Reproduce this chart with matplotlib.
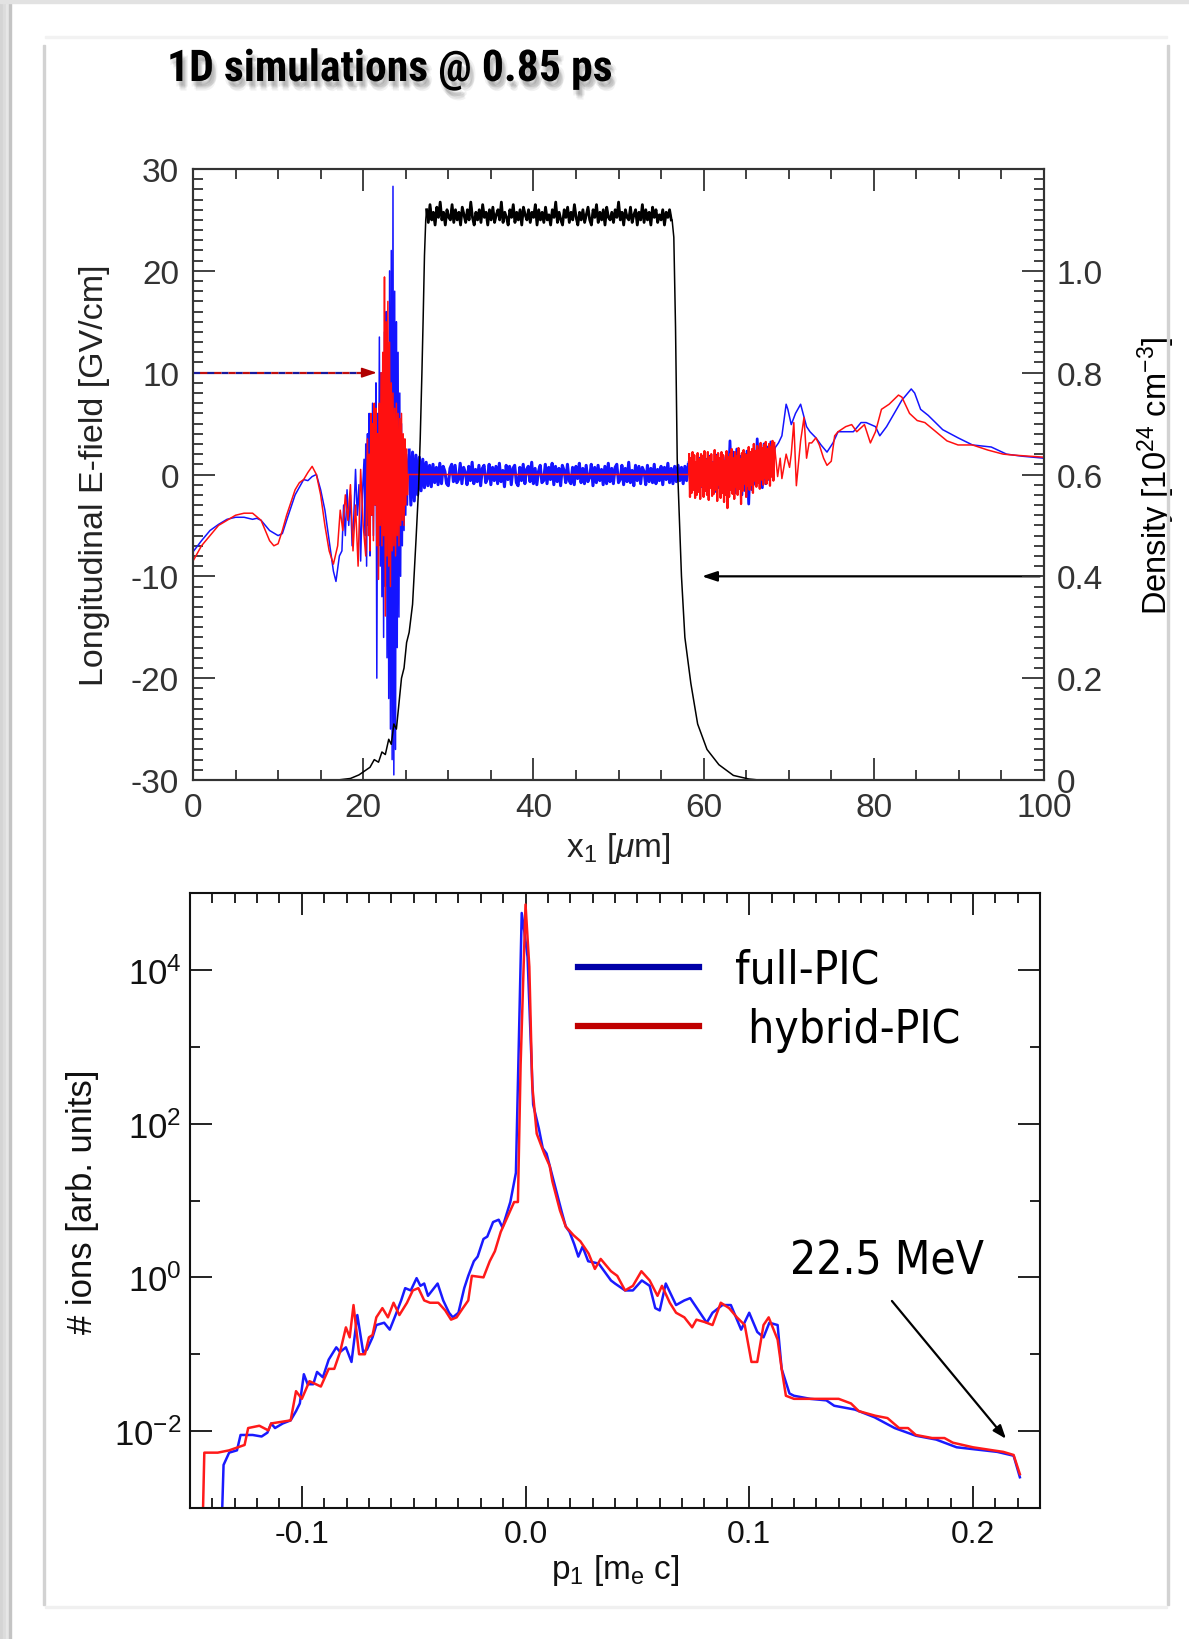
import numpy as np
import matplotlib
matplotlib.use("Agg")
import matplotlib.pyplot as plt
import matplotlib.patheffects as pe
from matplotlib import font_manager
from matplotlib.lines import Line2D
from matplotlib.patches import Rectangle
from matplotlib.ticker import MultipleLocator, FixedLocator, FuncFormatter, NullFormatter

plt.rcParams['font.family'] = ['Liberation Sans', 'DejaVu Sans']
plt.rcParams['mathtext.fontset'] = 'custom'
plt.rcParams['mathtext.rm'] = 'Liberation Sans'
plt.rcParams['mathtext.it'] = 'Liberation Sans:italic'
plt.rcParams['mathtext.default'] = 'regular'
plt.rcParams['axes.unicode_minus'] = False

W, H = 1189, 1640
TICK = '#333333'

# pick a condensed face for the title if one is installed
_faces = {(f.name, f.stretch) for f in font_manager.fontManager.ttflist}
_names = {n for n, s in _faces}
if 'Roboto Condensed' in _names:
    TITLE_FAM, TITLE_SIZE = ['Roboto Condensed', 'DejaVu Sans'], 31.5
elif 'Liberation Sans Narrow' in _names:
    TITLE_FAM, TITLE_SIZE = ['Liberation Sans Narrow', 'DejaVu Sans'], 31
else:
    TITLE_FAM, TITLE_SIZE = ['DejaVu Sans'], 26
COND = ['DejaVu Sans']

# ---------------- top panel: E-field (GV/cm) vs x1 (um) ----------------
# full-PIC (blue)
blue_left_x = [0, 1, 2, 3, 4, 5, 6, 7, 7.5, 8, 9, 10, 10.5, 11, 12, 13, 13.5, 14, 14.5, 15, 15.5, 16, 16.5, 16.8, 17.2]
blue_left_e = [-7.6, -6.5, -5.5, -4.9, -4.4, -4.2, -4.2, -4.4, -4.3, -4.5, -5.5, -6.0, -5.8, -4.5, -2.0, -0.5,
               -0.6, -0.2, 0.0, -1.5, -3.5, -6.5, -9.5, -10.5, -8.0]
blue_osc = [-7.5, -3, -6, -1.5, -5, -2, -7, -4, 0.5, -4, -1, -8.5, -2, 1.5]            # 17.5 .. 20.1
blue_spike = [-6, 3, -9, 4, -5, 6, -8, 2, -4, 7, -6, 5, -3, 9, -20, 6, -7, 13.5, -9, 10,
              -12, 8, -16, 14, -11, 16, -18, 12, -22, 20, -25, 22, -28, 28.3, -29.5, 18, -27, 15, -17, 12,
              -14, 8, -10, 5, -7, 3, -5.5, 2.5, -4, 2, -3, 1.5]                          # 20.2 .. 25.3
blue_band = [2.4, -3.0, 2.2, -2.6, 1.9, -2.0, 1.7, -1.6, 1.5, -1.3,
             1.2, -1.1, 0.9, -1.2, 1.0, -0.8, 0.7, -1.0, 1.1, -0.9,
             0.8, 0.3, -0.9, -1.1, 0.6, 1.0, -0.7, 0.9, -0.8, -0.5,
             1.1, -0.9, 0.7, 0.2, -1.0, 0.8, -0.6, 1.2, -0.9, 0.5,
             -0.7, 0.9, -1.1, 0.6, 0.9, -0.8, -0.4, 1.0, -1.0, 0.7,
             -0.6, 0.8, -0.9, 1.1, -0.7, 0.4, -1.2, 0.9, -0.5, 0.8,
             -1.0, 0.6, 0.9, -0.8, -1.1, 0.7, -0.6, 1.0, -0.9, 0.5,
             0.8, -0.7, 1.2, -0.9, 0.6, -1.0, 0.3, 0.9, -0.8, -0.6,
             1.0, -0.9, 0.7, -0.5, 1.1, -1.0, 0.8, -0.7, 0.6, -1.1,
             0.9, 0.4, -0.8, 1.0, -0.6, -0.9, 0.7, -1.0, 0.8, -0.4,
             1.1, -0.8, 0.6, -0.9, 0.9, -0.7, -0.3, 1.0, -1.1, 0.7,
             -0.8, 0.9, -0.6, 0.5, -1.0, 0.8, -0.9, 1.1, -0.7, 0.6,
             -0.9, 0.7, 1.0, -0.8, -0.5, 0.9, -1.0, 0.6, -0.7, 1.2,
             -0.8, 0.4, -1.1, 0.9, -0.6, 0.8, -0.9, 0.7, 0.3, -1.0,
             0.9, -0.7, 0.6, -0.8, 1.0, -0.9, 0.5, -0.6, 0.8, -1.0,
             0.7, -0.5, 1.1, -0.8, 0.6, -0.9, 0.8, -0.7, 0.9, -0.6,
             0.7, -0.9, 0.8, -0.6, 1.0]                                                   # 25.4 .. 58.2
blue_band2 = [1.2, -1.0, 1.4, -1.3, 1.1, -1.5, 1.6, -1.2, 1.3, -1.6,
              1.5, -1.4, 1.8, -1.1, 1.2, -1.7, 1.9, -1.3, 1.4, -1.5,
              1.7, -1.2, 2.0, -1.6, 3.3, -1.4, 2.2, -1.8, 2.5, -1.3,
              1.8, -2.0, 2.1, -1.6, 2.3, -2.9, 1.9, -1.5, 2.4, -1.0,
              3.5, -0.8, 2.6, -1.3, 3.0, -0.9, 2.7, -0.5, 3.2, 0.2, 2.5]               # 58.3 .. 68.3
blue_right_x = [68.8, 69.2, 69.7, 69.9, 70.3, 70.8, 71.4, 72.1, 72.5, 73.2, 73.8, 74.5, 75.2, 75.8, 76.7,
                77.6, 78.5, 79.1, 80.2, 80.7, 81.5, 82.4, 83.3, 84.4, 84.8, 85.5, 86.4, 88.1, 89.9,
                91.6, 93.8, 95.6, 97.4, 100]
blue_right_e = [3.1, 3.8, 6.9, 6.4, 4.9, 6.0, 6.9, 4.7, 4.2, 3.6, 2.9, 2.2, 3.1, 4.2, 4.2,
                4.2, 5.1, 5.1, 4.7, 3.8, 4.7, 6.0, 7.3, 8.4, 8.0, 6.4, 5.8, 4.4, 3.6,
                2.9, 2.7, 2.0, 1.8, 1.6]

# hybrid-PIC (red)
red_left_x = [0, 1, 2, 3, 4, 5, 6, 7, 8, 8.5, 9, 9.5, 10, 10.5, 11, 12, 12.5, 13, 13.5, 14, 14.5, 15, 15.5,
              16, 16.5, 17]
red_left_e = [-8.5, -7.0, -6.0, -5.0, -4.5, -4.0, -3.8, -3.8, -4.5, -5.5, -6.5, -7.0, -6.8, -5.5, -4.0, -1.5,
              -0.8, -0.5, 0.2, 0.8, 0.0, -2.0, -5.0, -7.5, -8.8, -7.0]
red_osc = [-3.5, -5.5, -2, -4.5, -1, -7.5, -3, -9, 0.5, -5, -8]                       # 17.3 .. 20.3
red_spike = [-2, 3.5, -6, 2, -7.5, 6, -4, 5, -6.5, 7,
             -3, 6.5, -7, 4, -10.3, 7, -5, 10, -7, 12,
             -6, 19.4, -13.9, 15, -8, 17, -9, 13, -11, 9,
             -7.5, 8, -7, 6.5, -8, 7, -6, 6, -7, 5.5,
             -5, 6, -4.5, 4, -5, 3.5, -3, 2.5, -2, 0]                                    # 20.4 .. 25.3
red_band2 = [2.0, -2.2, 1.6, -1.8, 2.2, -1.5, 1.9, -2.3, 1.2, -2.0,
             2.1, -1.7, 1.5, -2.4, 2.0, -1.1, 1.8, -2.2, 2.3, -1.6,
             1.4, -2.0, 2.2, -2.5, 1.7, -1.3, 2.0, -2.1, 1.1, -1.9,
             2.4, -1.5, 1.8, -2.6, 2.1, -1.0, 1.6, -2.3, 2.2, -1.8,
             1.9, -2.7, 1.3, -2.0, 2.3, -3.3, 1.7, -2.2, 2.0, -1.5,
             2.5, -1.9, 1.6, -2.4, 2.2, -1.2, 1.8, -2.0, 2.6, -1.4,
             1.5, -2.9, 2.1, -1.6, 2.4, -0.9, 2.0, -2.2, 1.9, -1.1,
             2.7, -1.5, 2.2, -1.0, 2.5, -1.8, 3.0, -0.6, 2.3, -1.2,
             2.8, -0.8, 2.4, -1.4, 3.1, -0.5, 2.6, -1.0, 2.9, -0.3,
             3.2, -0.9, 2.5, -0.4, 3.0, -1.1, 2.7, -0.2, 3.3, -0.6,
             3.1]                                                                          # 58.3 .. 68.3
red_right_x = [68.7, 69.0, 69.2, 69.7, 70.1, 70.3, 70.6, 70.9, 71.4, 71.8, 72.1, 72.4, 72.7, 73.2, 73.6,
               74.1, 74.5, 75.0, 75.4, 75.8, 76.7, 77.4, 78.0, 78.9, 79.6, 80.2, 80.9, 81.8, 82.9,
               83.3, 84.2, 85.1, 86.0, 87.3, 88.6, 89.9, 91.6, 93.4, 95.2, 96.5, 100]
red_right_e = [-0.2, 1.6, -0.4, 2.0, 0.7, 2.0, 5.1, -1.1, 3.3, 5.6, 1.6, 3.1, 3.1, 3.6, 2.9,
               1.6, 0.9, 1.3, 3.8, 4.2, 4.7, 4.9, 4.2, 4.9, 3.1, 4.2, 6.4, 6.9, 7.8,
               7.6, 6.0, 5.3, 5.1, 4.2, 3.3, 2.9, 2.9, 2.4, 2.0, 1.9, 1.7]

# density (10^24 cm^-3)
dens_rise_x = [0, 17, 18.5, 19.5, 20.2, 20.8, 21.3, 21.8, 22.2, 22.6, 23.0, 23.3, 23.6, 23.9, 24.2, 24.5,
               24.8, 25.1, 25.4, 25.8, 26.2, 26.5, 26.7, 26.9, 27.05, 27.2, 27.35]
dens_rise = [0, 0, 0.003, 0.01, 0.018, 0.025, 0.04, 0.035, 0.055, 0.05, 0.08, 0.07, 0.11, 0.10, 0.15, 0.20,
             0.22, 0.27, 0.29, 0.345, 0.47, 0.57, 0.67, 0.80, 0.91, 1.03, 1.10]
dens_plateau = [1.12, 1.095, 1.13, 1.10, 1.115, 1.09, 1.125, 1.105, 1.135, 1.10,
                1.115, 1.09, 1.12, 1.105, 1.10, 1.13, 1.095, 1.12, 1.10, 1.115,
                1.09, 1.125, 1.11, 1.095, 1.12, 1.10, 1.135, 1.105, 1.09, 1.115,
                1.10, 1.12, 1.095, 1.13, 1.105, 1.115, 1.09, 1.12, 1.10, 1.125,
                1.095, 1.11, 1.12, 1.10, 1.135, 1.095, 1.115, 1.105, 1.09, 1.12,
                1.105, 1.13, 1.095, 1.115, 1.10, 1.12, 1.09, 1.125, 1.11, 1.10,
                1.12, 1.095, 1.115, 1.105, 1.13, 1.09, 1.12, 1.10, 1.115, 1.095,
                1.125, 1.10, 1.11, 1.09, 1.12, 1.105, 1.135, 1.095, 1.115, 1.10,
                1.09, 1.12, 1.105, 1.125, 1.095, 1.115, 1.10, 1.13, 1.105, 1.09,
                1.115, 1.10, 1.12, 1.095, 1.11, 1.125, 1.10, 1.09, 1.12, 1.105,
                1.13, 1.095, 1.115, 1.10, 1.12, 1.09, 1.125, 1.105, 1.10, 1.115,
                1.095, 1.12, 1.105, 1.135, 1.10, 1.115, 1.09, 1.12, 1.105, 1.10,
                1.125, 1.095, 1.11, 1.12, 1.09, 1.115, 1.10, 1.13, 1.095, 1.12,
                1.10, 1.115, 1.09, 1.125, 1.105, 1.12, 1.095, 1.11, 1.10, 1.12,
                1.09, 1.115, 1.105, 1.12, 1.10]                                           # 27.45 .. 56.2
dens_fall_x = [56.3, 56.5, 56.7, 56.9, 57.4, 57.8, 58.5, 59.3, 60.4, 61.8, 63.5, 65.3, 66.5, 100]
dens_fall = [1.10, 1.066, 0.89, 0.63, 0.40, 0.28, 0.19, 0.11, 0.06, 0.03, 0.009, 0.002, 0, 0]

# ---------------- bottom panel: ion spectrum, log10(# ions) vs p1 ----------------
red_p = [-0.1444, -0.1436, -0.1376, -0.1325, -0.1256, -0.124, -0.119, -0.115, -0.1137, -0.105, -0.1026,
         -0.100, -0.0966, -0.0915, -0.088, -0.0855, -0.0829, -0.0803, -0.0786, -0.0769, -0.0744, -0.0718,
         -0.070, -0.0684, -0.0667, -0.064, -0.0615, -0.059, -0.0564, -0.053, -0.0504, -0.0479, -0.0453,
         -0.0427, -0.039, -0.0359, -0.0333, -0.0308, -0.028, -0.0256, -0.024, -0.0188, -0.016, -0.0137,
         -0.0111, -0.0051, -0.0034, -0.0022, 0.0, 0.0017, 0.003, 0.005, 0.0085, 0.0108, 0.012, 0.0154,
         0.018, 0.0214, 0.0245, 0.0282, 0.031, 0.0336, 0.0382, 0.041, 0.0445, 0.048, 0.0518, 0.0555,
         0.059, 0.061, 0.0645, 0.0673, 0.071, 0.0745, 0.0764, 0.080, 0.0836, 0.0873, 0.091, 0.0945,
         0.098, 0.101, 0.1036, 0.1064, 0.1087, 0.1127, 0.1145, 0.1164, 0.120, 0.1273, 0.1345, 0.140,
         0.1455, 0.149, 0.1564, 0.1618, 0.167, 0.171, 0.1745, 0.1818, 0.1873, 0.191, 0.200, 0.209,
         0.2136, 0.2182, 0.221]
red_logn = [-3.3, -2.28, -2.28, -2.25, -2.18, -1.96, -1.93, -1.99, -1.90, -1.86, -1.48,
            -1.58, -1.35, -1.42, -1.19, -1.19, -0.97, -0.65, -0.78, -0.36, -1.0, -1.0,
            -0.78, -0.75, -0.52, -0.40, -0.52, -0.33, -0.49, -0.33, -0.17, -0.14, -0.30,
            -0.33, -0.33, -0.43, -0.55, -0.52, -0.40, -0.30, 0.02, 0.0, 0.21, 0.34,
            0.59, 0.98, 0.98, 2.76, 4.85, 4.04, 2.5, 1.87, 1.6, 1.45, 1.25, 0.87,
            0.66, 0.55, 0.47, 0.31, 0.11, 0.24, 0.08, 0.02, -0.17, -0.11, 0.08, -0.04,
            -0.24, -0.11, -0.33, -0.46, -0.52, -0.65, -0.55, -0.58, -0.62, -0.33, -0.40, -0.52,
            -0.62, -1.1, -1.1, -0.62, -0.52, -0.81, -1.19, -1.54, -1.58, -1.58, -1.58, -1.58,
            -1.64, -1.74, -1.80, -1.83, -1.96, -1.96, -2.05, -2.09, -2.09, -2.15, -2.21, -2.25,
            -2.27, -2.31, -2.56]

blue_p = [-0.1359, -0.135, -0.1325, -0.129, -0.1274, -0.122, -0.118, -0.1154, -0.1137, -0.112, -0.1085,
          -0.105, -0.1026, -0.1009, -0.0991, -0.0974, -0.0949, -0.0932, -0.0906, -0.088, -0.0846, -0.0829,
          -0.0803, -0.0778, -0.0752, -0.0726, -0.0709, -0.0684, -0.0667, -0.0632, -0.0607, -0.0581,
          -0.0556, -0.0538, -0.0513, -0.0487, -0.047, -0.0453, -0.0436, -0.0393, -0.0368, -0.0342,
          -0.0325, -0.030, -0.0274, -0.0256, -0.0231, -0.0214, -0.0188, -0.0171, -0.0145, -0.012,
          -0.0103, -0.0068, -0.0043, -0.0017, -0.0005, 0.0009, 0.0034, 0.006, 0.0077, 0.0094, 0.0128,
          0.0162, 0.018, 0.0197, 0.0218, 0.0236, 0.0255, 0.028, 0.0327, 0.0382, 0.040, 0.0445, 0.048,
          0.052, 0.0555, 0.058, 0.060, 0.0627, 0.0673, 0.071, 0.0736, 0.078, 0.081, 0.0836, 0.088,
          0.0918, 0.0964, 0.100, 0.1036, 0.1064, 0.109, 0.1127, 0.1145, 0.118, 0.120, 0.1273, 0.1345,
          0.138, 0.1473, 0.156, 0.165, 0.1745, 0.1836, 0.1927, 0.2018, 0.2109, 0.2182, 0.221]
blue_logn = [-3.3, -2.44, -2.28, -2.25, -2.05, -2.05, -2.07, -2.02, -1.90, -1.96, -1.90,
             -1.86, -1.74, -1.64, -1.26, -1.39, -1.39, -1.23, -1.30, -1.07, -0.91, -0.97,
             -0.91, -1.10, -0.49, -0.97, -0.94, -0.78, -0.62, -0.59, -0.68, -0.49,
             -0.30, -0.14, -0.17, -0.01, -0.11, -0.08, -0.24, -0.08, -0.30, -0.46,
             -0.52, -0.46, -0.14, 0.02, 0.21, 0.27, 0.50, 0.53, 0.72, 0.75,
             0.65, 0.98, 1.36, 4.74, 4.49, 4.17, 2.25, 1.93, 1.68, 1.61, 1.23,
             0.85, 0.66, 0.59, 0.43, 0.27, 0.40, 0.21, 0.18, -0.04, -0.08, -0.17, -0.17,
             -0.04, -0.11, -0.40, -0.43, -0.08, -0.36, -0.30, -0.27, -0.46, -0.59, -0.46, -0.36,
             -0.36, -0.68, -0.46, -0.71, -0.78, -0.59, -0.62, -1.19, -1.51, -1.54, -1.58, -1.60,
             -1.67, -1.72, -1.82, -1.96, -2.06, -2.11, -2.21, -2.24, -2.27, -2.32, -2.60]

legend_labels = ['full-PIC', ' hybrid-PIC']


def px_axes(left, top, right, bottom):
    return [left / W, 1 - bottom / H, (right - left) / W, (bottom - top) / H]


fig = plt.figure(figsize=(W / 100, H / 100), dpi=100)
fig.patch.set_facecolor('white')

# page frame
for x0, wdt, col in [(0, 3, '#d4d4d4'), (3, 3, '#dcdcdc'), (6, 3, '#e6e6e6'), (9, 2, '#c4c4c4')]:
    fig.patches.append(Rectangle((x0 / W, 0), wdt / W, 1, transform=fig.transFigure, color=col, zorder=0))
fig.patches.append(Rectangle((0, 1 - 4 / H), 1, 4 / H, transform=fig.transFigure, color='#e2e2e2', zorder=0))
fig.patches.append(Rectangle((43 / W, 1 - 1606 / H), 2 / W, 1560 / H, transform=fig.transFigure,
                             color='#d2d2d2', zorder=0))
fig.patches.append(Rectangle((1167 / W, 1 - 1606 / H), 2 / W, 1560 / H, transform=fig.transFigure,
                             color='#d2d2d2', zorder=0))
fig.patches.append(Rectangle((45 / W, 1 - 1609 / H), 1122 / W, 2 / H, transform=fig.transFigure,
                             color='#f0f0f0', zorder=0))
fig.patches.append(Rectangle((45 / W, 1 - 39 / H), 1122 / W, 2 / H, transform=fig.transFigure,
                             color='#f2f2f2', zorder=0))

# title with soft shadow
shadow = [pe.SimplePatchShadow(offset=(dx, dy), shadow_rgbFace='black', alpha=0.05)
          for dx, dy in [(1, -3), (2, -4), (3, -5), (2, -6), (4, -4), (0, -4), (3, -7)]]
fig.text(167 / W, 1 - 70 / H, '1D simulations @ 0.85 ps', ha='left', va='center', fontsize=TITLE_SIZE,
         family=TITLE_FAM, fontstretch='condensed', fontweight='bold', color='black',
         path_effects=shadow + [pe.Normal()])

# ---------- top panel ----------
ax = fig.add_axes(px_axes(193, 170, 1044, 781))
ax2 = ax.twinx()

band_x = np.linspace(25.4, 58.2, len(blue_band))
band2_x = np.linspace(58.3, 68.3, len(blue_band2))
rband2_x = np.linspace(58.3, 68.3, len(red_band2))
plat_x = np.linspace(27.45, 56.2, len(dens_plateau))

bx = np.concatenate([blue_left_x, np.linspace(17.5, 20.1, len(blue_osc)), np.linspace(20.2, 25.3, len(blue_spike)),
                     band_x, band2_x, blue_right_x])
be = np.concatenate([blue_left_e, blue_osc, blue_spike, blue_band, blue_band2, blue_right_e])
rx = np.concatenate([red_left_x, np.linspace(17.3, 20.3, len(red_osc)), np.linspace(20.4, 25.3, len(red_spike)),
                     [58.3], rband2_x, red_right_x])
re = np.concatenate([red_left_e, red_osc, red_spike, [0], red_band2, red_right_e])
ax.plot(bx, be, color='#1414ff', lw=1.1, zorder=2)
ax.plot(band_x, blue_band, color='#1414ff', lw=2.2, zorder=2)       # dense noise reads as a solid band
ax.plot(band2_x, blue_band2, color='#1414ff', lw=2.0, zorder=2)
ax.plot(rx, re, color='#ff1010', lw=1.1, zorder=3)
ax.plot(rband2_x, red_band2, color='#ff1010', lw=1.6, zorder=3)

dx_ = np.concatenate([dens_rise_x, plat_x, dens_fall_x])
dn = np.concatenate([dens_rise, dens_plateau, dens_fall])
ax2.plot(dx_, dn, color='black', lw=1.1)
ax2.plot(plat_x, dens_plateau, color='black', lw=2.0)

# annotation arrows
ax.plot([0, 20.7], [10, 10], color='#1a1a9c', lw=1.6, ls=(0, (3.2, 3.2)), zorder=4)
ax.plot([0, 20.7], [10, 10], color='#c01010', lw=1.6, ls=(3.2, (3.2, 3.2)), zorder=4)
ax.annotate('', xy=(21.6, 10), xytext=(20.3, 10),
            arrowprops=dict(arrowstyle='-|>,head_length=0.9,head_width=0.3', color='#b00000', lw=1.2,
                            shrinkA=0, shrinkB=0), zorder=5)
ax.annotate('', xy=(59.8, -10), xytext=(99.5, -10),
            arrowprops=dict(arrowstyle='-|>,head_length=0.9,head_width=0.3', color='black', lw=1.6,
                            shrinkA=0, shrinkB=0), zorder=5)

ax.set_xlim(0, 100)
ax.set_ylim(-30, 30)
ax2.set_ylim(0, 1.2)
ax.xaxis.set_major_locator(MultipleLocator(20))
ax.xaxis.set_minor_locator(MultipleLocator(5))
ax.yaxis.set_major_locator(MultipleLocator(10))
ax.yaxis.set_minor_locator(MultipleLocator(1))
ax2.yaxis.set_major_locator(FixedLocator([0, 0.2, 0.4, 0.6, 0.8, 1.0]))
ax2.yaxis.set_minor_locator(MultipleLocator(0.02))
ax2.yaxis.set_major_formatter(FuncFormatter(lambda v, p: '0' if abs(v) < 1e-9 else '%.1f' % v))

ax.tick_params(which='both', direction='in', top=True, bottom=True, left=True, right=False,
               colors=TICK, labelcolor=TICK, width=1.3)
ax.tick_params(which='major', length=16, labelsize=24, pad=10)
ax.tick_params(which='minor', length=7.5)
ax2.tick_params(which='both', direction='in', right=True, left=False, colors=TICK, labelcolor=TICK, width=1.3)
ax2.tick_params(which='major', length=16, labelsize=24, pad=9)
ax2.tick_params(which='minor', length=7.5)
ax.tick_params(axis='x', which='major', pad=9)
for a in (ax, ax2):
    for s in a.spines.values():
        s.set_color('#333333')
        s.set_linewidth(1.5)

ax.set_xlabel(r'x$_1$ [$\mathit{\mu}$m]', fontsize=24, color='#222222')
ax.xaxis.set_label_coords(0.5, -0.082)
ax.xaxis.label.set_va('top')
ax.set_ylabel('Longitudinal E-field [GV/cm]', fontsize=24.5, color='#222222')
ax.yaxis.set_label_coords(-0.098, 0.5)
ax2.set_ylabel(r'Density [10$^{24}$ cm$^{-3}$]', fontsize=23.5, color='black')
ax2.yaxis.set_label_coords(1.108, 0.5)

# ---------- bottom panel ----------
bx2 = fig.add_axes(px_axes(190, 894, 1040, 1509))
bx2.plot(blue_p, np.power(10.0, blue_logn), color='#1a1aff', lw=1.8)
bx2.plot(red_p, np.power(10.0, red_logn), color='#ff1a1a', lw=1.8)
bx2.set_yscale('log')
bx2.set_xlim(-0.150, 0.230)
bx2.set_ylim(1e-3, 1e5)
bx2.xaxis.set_major_locator(FixedLocator([-0.1, 0.0, 0.1, 0.2]))
bx2.xaxis.set_major_formatter(FuncFormatter(lambda v, p: '%.1f' % v))
bx2.xaxis.set_minor_locator(MultipleLocator(0.01))
bx2.yaxis.set_major_locator(FixedLocator([1e-2, 1e0, 1e2, 1e4]))
bx2.yaxis.set_minor_locator(FixedLocator([1e-1, 1e1, 1e3]))
bx2.yaxis.set_minor_formatter(NullFormatter())
bx2.tick_params(which='both', direction='in', top=True, bottom=True, left=True, right=True,
                colors='#111111', labelcolor='#111111', width=1.3)
bx2.tick_params(which='major', length=16, pad=8)
bx2.tick_params(axis='x', which='major', labelsize=23)
bx2.tick_params(axis='y', which='major', labelsize=25, pad=6)
bx2.tick_params(which='minor', length=7.5)
for s in bx2.spines.values():
    s.set_color('#111111')
    s.set_linewidth(1.5)

bx2.set_xlabel(r'p$_1$ [m$_e$ c]', fontsize=24, color='#111111')
bx2.xaxis.set_label_coords(0.5, -0.072)
bx2.xaxis.label.set_va('top')
bx2.set_ylabel('# ions [arb. units]', fontsize=25, color='#111111')
bx2.yaxis.set_label_coords(-0.107, 0.5)

handles = [Line2D([], [], color='#0000a8', lw=4.5), Line2D([], [], color='#c00000', lw=4.5)]
bx2.legend(handles, legend_labels, loc='upper left', bbox_to_anchor=(0.4565, 0.9106), frameon=False,
           borderpad=0, borderaxespad=0, handlelength=2.64, handletextpad=0.79, labelspacing=0.3,
           prop=dict(family=COND, stretch='condensed', size=33))

bx2.annotate('', xy=(0.2148, 10 ** -2.10), xytext=(0.1638, 10 ** -0.307),
             arrowprops=dict(arrowstyle='-|>,head_length=0.8,head_width=0.3', color='black', lw=1.6,
                             shrinkA=0, shrinkB=0))
bx2.text(0.1616, 10 ** 0.213, '22.5 MeV', ha='center', va='center', fontsize=33, family=COND,
         fontstretch='condensed', color='black')

fig.savefig('out.png', dpi=100, facecolor=fig.get_facecolor())
